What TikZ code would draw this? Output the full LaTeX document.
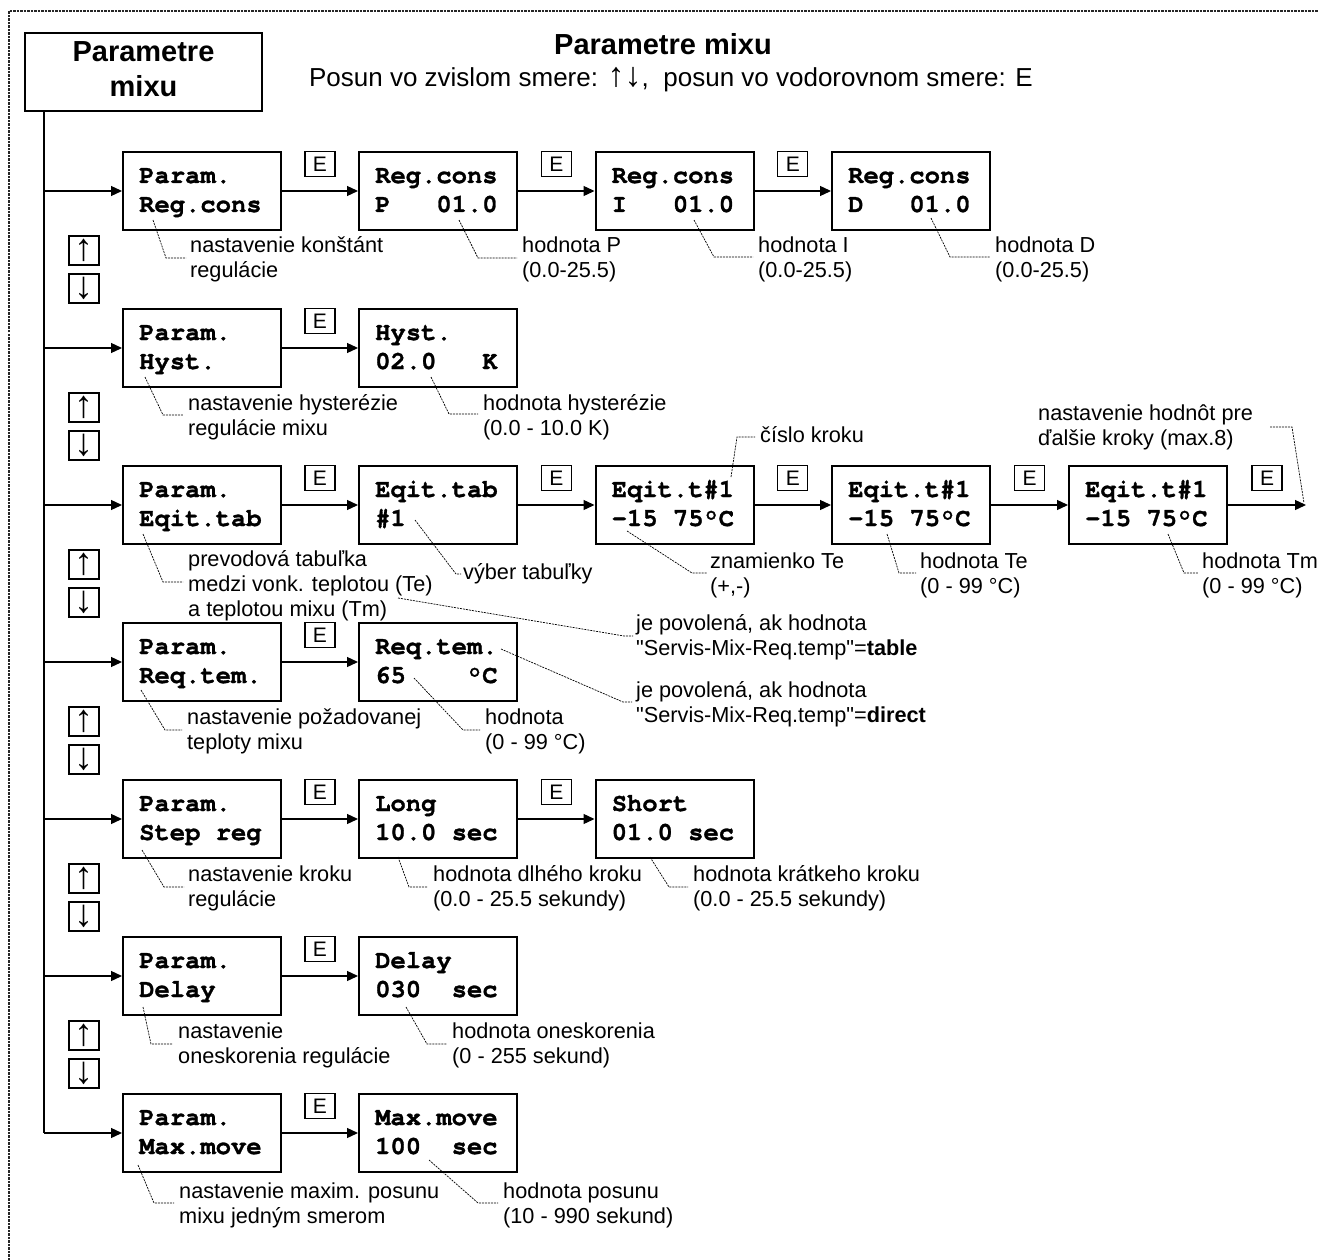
\documentclass[tikz,border=0pt]{standalone}
\usepackage{fontspec}
\setmainfont{Liberation Sans}
\setmonofont{TeX Gyre Cursor}[BoldFeatures={FakeBold=1.2}]
\newfontfamily\qfont{Liberation Sans}[Ligatures=TeXOff]
\usetikzlibrary{arrows.meta,calc}
\newcommand\mylines[1]{\begin{tabular}[t]{@{}l@{}}#1\end{tabular}}
\newcommand\qq{{\qfont"}}
\tikzset{
  dbox/.style={draw, line width=2pt, minimum width=158pt, minimum height=78pt, inner sep=0pt},
  dtxt/.style={anchor=base west, inner sep=0pt, font=\fontsize{25.5}{29}\selectfont\ttfamily\bfseries},
  ebox/.style={draw, line width=1.2pt, minimum width=30pt, minimum height=25pt, inner sep=0pt, font=\fontsize{21}{22}\selectfont},
  kbox/.style={draw, line width=1.5pt, minimum width=30pt, minimum height=29pt, inner sep=0pt, font=\fontsize{38}{38}\selectfont},
  arr/.style={line width=1.3pt, -{Triangle[length=11pt,width=10pt]}},
  lead/.style={line width=0.7pt, dash pattern=on 2pt off 1pt},
  lbl/.style={anchor=base west, inner sep=0pt, font=\fontsize{21.7}{25}\selectfont},
  frame/.style={line width=1.6pt, dash pattern=on 2.5pt off 1pt, black!85}
}
\newcommand\dsp[5]{%
  \node[dbox] (#1) at (#2,#3) {};
  \node[dtxt] (#1a) at ([shift={(17,32)}]#1.north west) {#4};
  \node[dtxt] (#1b) at ([shift={(17,61)}]#1.north west) {#5};}
\begin{document}
\begin{tikzpicture}[x=1pt,y=-1pt]
\useasboundingbox (0,0) rectangle (1318,1260);
\fill[white] (0,0) rectangle (1318,1260);
\draw[frame] (9,1260) -- (9,11) -- (1318,11);

% header
\node[draw, line width=1.2pt, minimum width=237pt, minimum height=78pt, inner sep=0pt,
      font=\fontsize{29}{35}\selectfont\bfseries] (hdr) at (143.5,72)
      {\begin{tabular}{@{}c@{}}Parametre\\mixu\end{tabular}};
\node[anchor=base, inner sep=0pt, font=\fontsize{29}{34}\selectfont\bfseries] (title) at (663,55) {Parametre mixu};
\node[anchor=base, inner sep=0pt, font=\fontsize{26}{30}\selectfont] (sub) at (671,87)
      {Posun vo zvislom smere: {\fontsize{34}{30}\selectfont ↑↓},~ posun vo vodorovnom smere: E};

% display boxes
\dsp{r1b1}{202}{191}{Param.}{Reg.cons}
\dsp{r1b2}{438}{191}{Reg.cons}{P~~~01.0}
\dsp{r1b3}{674.5}{191}{Reg.cons}{I~~~01.0}
\dsp{r1b4}{911}{191}{Reg.cons}{D~~~01.0}

\dsp{r2b1}{202}{348}{Param.}{Hyst.}
\dsp{r2b2}{438}{348}{Hyst.}{02.0~~~K}

\dsp{r3b1}{202}{505}{Param.}{Eqit.tab}
\dsp{r3b2}{438}{505}{Eqit.tab}{\#1}
\dsp{r3b3}{674.5}{505}{Eqit.t\#1}{-15~75°C}
\dsp{r3b4}{911}{505}{Eqit.t\#1}{-15~75°C}
\dsp{r3b5}{1148}{505}{Eqit.t\#1}{-15~75°C}
\coordinate (r3end) at (1306,505);

\dsp{r4b1}{202}{662}{Param.}{Req.tem.}
\dsp{r4b2}{438}{662}{Req.tem.}{65~~~~°C}

\dsp{r5b1}{202}{819}{Param.}{Step~reg}
\dsp{r5b2}{438}{819}{Long}{10.0~sec}
\dsp{r5b3}{674.5}{819}{Short}{01.0~sec}

\dsp{r6b1}{202}{976}{Param.}{Delay}
\dsp{r6b2}{438}{976}{Delay}{030~~sec}

\dsp{r7b1}{202}{1133}{Param.}{Max.move}
\dsp{r7b2}{438}{1133}{Max.move}{100~~sec}

% trunk
\coordinate (tt) at ([xshift=20pt]hdr.south west);
\draw[line width=2pt] (tt) -- (tt |- r7b1.west);
\foreach \r in {1,...,7}{\draw[arr] (tt |- r\r b1.west) -- (r\r b1.west);}

% horizontal arrows with E boxes
\foreach \a/\b in {r1b1/r1b2,r1b2/r1b3,r1b3/r1b4,r2b1/r2b2,r3b1/r3b2,r3b2/r3b3,r3b3/r3b4,r3b4/r3b5,
                   r4b1/r4b2,r5b1/r5b2,r5b2/r5b3,r6b1/r6b2,r7b1/r7b2}{
  \draw[arr] (\a.east) -- (\b.west);
  \node[ebox, anchor=north] (e\a) at ($(\a.north east)!0.5!(\b.north west)$) {E};
}
\draw[arr] (r3b5.east) -- (r3end);
\node[ebox, anchor=north] (er3b5) at ($(r3b5.north east)!0.5!(r3b5.north east -| r3end)$) {E};

% up/down key boxes
\foreach \r/\t in {2/309,3/466,4/623,5/780,6/937,7/1094}{
  \node[kbox] (up\r) at (84,\t-58.5) {↑};
  \node[kbox] (dn\r) at (84,\t-20.5) {↓};
}

% labels and leaders
\node[lbl] (l1a) at (190,253) {\mylines{nastavenie konštánt\\regulácie}};
\draw[lead] (153,220) -- (166,258) -- (186,258);
\node[lbl] (l1b) at (522,253) {\mylines{hodnota P\\(0.0-25.5)}};
\draw[lead] (459,220) -- (478,258) -- (517,258);
\node[lbl] (l1c) at (758,253) {\mylines{hodnota I\\(0.0-25.5)}};
\draw[lead] (694,220) -- (714,257) -- (753,257);
\node[lbl] (l1d) at (995,253) {\mylines{hodnota D\\(0.0-25.5)}};
\draw[lead] (931,218) -- (950,257) -- (990,257);

\node[lbl] (l2a) at (188,410) {\mylines{nastavenie hysterézie\\regulácie mixu}};
\draw[lead] (145,377) -- (163,415) -- (183,415);
\node[lbl] (l2b) at (483,410) {\mylines{hodnota hysterézie\\(0.0 - 10.0 K)}};
\draw[lead] (431,377) -- (449,414) -- (478,414);

\node[lbl] (l3a) at (188,566) {\mylines{prevodová tabuľka\\medzi vonk. teplotou (Te)\\a teplotou mixu (Tm)}};
\draw[lead] (143,534) -- (163,582) -- (183,582);
\node[lbl] (l3b) at (463,579) {výber tabuľky};
\draw[lead] (415,520) -- (456,574) -- (461,574);
\node[lbl] (l3c) at (710,568) {\mylines{znamienko Te\\(+,-)}};
\draw[lead] (627,531) -- (692,573) -- (707,573);
\node[lbl] (l3d) at (920,568) {\mylines{hodnota Te\\(0 - 99 °C)}};
\draw[lead] (887,534) -- (899,573) -- (916,573);
\node[lbl] (l3e) at (1202,568) {\mylines{hodnota Tm\\(0 - 99 °C)}};
\draw[lead] (1168,534) -- (1184,573) -- (1198,573);
\node[lbl] (l3f) at (760,442) {číslo kroku};
\draw[lead] (731,477) -- (737,437) -- (755,437);
\node[lbl] (l3g) at (1038,420) {\mylines{nastavenie hodnôt pre\\ďalšie kroky (max.8)}};
\draw[lead] (1270,427) -- (1292,427) -- (1304,503);
\node[lbl] (l3h) at (636,630) {\mylines{je povolená, ak hodnota\\\qq Servis-Mix-Req.temp\qq=\textbf{table}}};
\draw[lead] (398,598) -- (624,636) -- (633,636);

\node[lbl] (l4a) at (187,724) {\mylines{nastavenie požadovanej\\teploty mixu}};
\draw[lead] (141,690) -- (165,730) -- (182,730);
\node[lbl] (l4b) at (485,724) {\mylines{hodnota\\(0 - 99 °C)}};
\draw[lead] (414,678) -- (463,730) -- (480,730);
\node[lbl] (l4c) at (636,697) {\mylines{je povolená, ak hodnota\\\qq Servis-Mix-Req.temp\qq=\textbf{direct}}};
\draw[lead] (501,649) -- (623,702) -- (632,702);

\node[lbl] (l5a) at (188,881) {\mylines{nastavenie kroku\\regulácie}};
\draw[lead] (142,850) -- (164,887) -- (184,887);
\node[lbl] (l5b) at (433,881) {\mylines{hodnota dlhého kroku\\(0.0 - 25.5 sekundy)}};
\draw[lead] (398,857) -- (409,887) -- (428,887);
\node[lbl] (l5c) at (693,881) {\mylines{hodnota krátkeho kroku\\(0.0 - 25.5 sekundy)}};
\draw[lead] (650,857) -- (669,887) -- (688,887);

\node[lbl] (l6a) at (178,1038) {\mylines{nastavenie\\oneskorenia regulácie}};
\draw[lead] (143,1007) -- (151,1044) -- (173,1044);
\node[lbl] (l6b) at (452,1038) {\mylines{hodnota oneskorenia\\(0 - 255 sekund)}};
\draw[lead] (406,1007) -- (427,1044) -- (447,1044);

\node[lbl] (l7a) at (179,1198) {\mylines{nastavenie maxim. posunu\\mixu jedným smerom}};
\draw[lead] (138,1165) -- (154,1203) -- (174,1203);
\node[lbl] (l7b) at (503,1198) {\mylines{hodnota posunu\\(10 - 990 sekund)}};
\draw[lead] (429,1160) -- (478,1203) -- (498,1203);
\end{tikzpicture}
\end{document}
